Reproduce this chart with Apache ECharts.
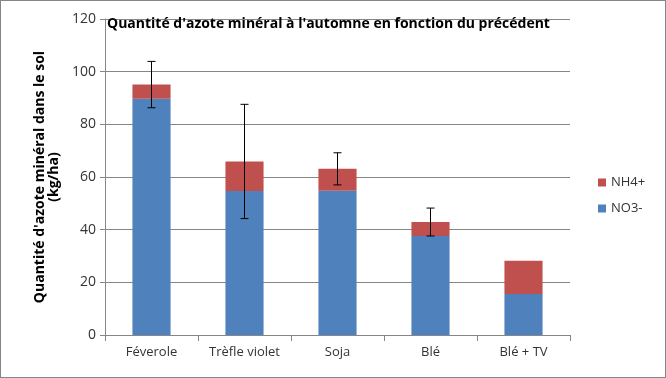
<!DOCTYPE html>
<html>
<head>
<meta charset="utf-8">
<script src="https://cdn.jsdelivr.net/npm/echarts@6/dist/echarts.min.js"></script>
<style>
  html, body { margin: 0; padding: 0; background: #fff; }
  #chart-container { width: 666px; height: 378px; box-sizing: border-box; border: 1px solid #868686; }
</style>
</head>
<body>
<div id="chart-container"></div>
<script>
// data
var categories = ['Féverole', 'Trèfle violet', 'Soja', 'Blé', 'Blé + TV'];
var no3 = [89.7, 54.7, 54.8, 37.6, 15.6];
var nh4 = [5.4, 11.2, 8.3, 5.3, 12.6];
var errors = [8.8, 21.7, 6.1, 5.3, 0];
var yTicks = [0, 20, 40, 60, 80, 100, 120];

// error bar centred on the total of each stack
var errData = categories.map(function (c, i) {
  var total = no3[i] + nh4[i];
  return [i, total - errors[i], total + errors[i]];
});

var dom = document.getElementById('chart-container');
var myChart = echarts.init(dom, null, { renderer: 'canvas' });

var option = {
  animation: false,
  textStyle: { fontFamily: 'Open Sans' },
  title: {
    text: "Quantité d'azote minéral à l'automne en fonction du précédent",
    left: 106,
    top: 16,
    padding: 0,
    textStyle: { fontSize: 14, fontWeight: 'bold', color: '#000', fontFamily: 'Open Sans' }
  },
  legend: {
    orient: 'vertical',
    left: 592,
    top: 170,
    itemWidth: 8,
    itemHeight: 8,
    itemGap: 13,
    icon: 'rect',
    textStyle: { fontSize: 13, color: '#333' },
    data: ['NH4+', 'NO3-']
  },
  grid: { left: 104, right: 95, top: 18, bottom: 42 },
  xAxis: {
    type: 'category',
    data: categories,
    axisLine: { lineStyle: { color: '#868686' } },
    axisTick: { show: true, length: 6, lineStyle: { color: '#868686' } },
    axisLabel: { color: '#333', fontSize: 13, margin: 11 }
  },
  yAxis: {
    type: 'value',
    min: yTicks[0],
    max: yTicks[yTicks.length - 1],
    interval: 20,
    name: "Quantité d'azote minéral dans le sol\n(kg/ha)",
    nameLocation: 'middle',
    nameGap: 42,
    nameTextStyle: { fontSize: 14, fontWeight: 'bold', color: '#000', lineHeight: 14 },
    axisLine: { show: true, lineStyle: { color: '#868686' } },
    axisTick: { show: true, length: 5, lineStyle: { color: '#868686' } },
    axisLabel: { color: '#333', fontSize: 14, margin: 9 },
    splitLine: { lineStyle: { color: '#868686' } }
  },
  series: [
    {
      name: 'NO3-',
      type: 'bar',
      stack: 'N',
      barWidth: '41%',
      itemStyle: { color: '#4f81bd' },
      data: no3
    },
    {
      name: 'NH4+',
      type: 'bar',
      stack: 'N',
      barWidth: '41%',
      itemStyle: { color: '#c0504d' },
      data: nh4
    },
    {
      name: 'err',
      type: 'custom',
      z: 10,
      data: errData,
      renderItem: function (params, api) {
        var lo = api.value(1), hi = api.value(2);
        if (hi - lo <= 0) return null;
        var pTop = api.coord([api.value(0), hi]);
        var pBot = api.coord([api.value(0), lo]);
        var x = pTop[0], hw = 4;
        var style = { stroke: '#000', lineWidth: 1 };
        return {
          type: 'group',
          children: [
            { type: 'line', shape: { x1: x, y1: pTop[1], x2: x, y2: pBot[1] }, style: style },
            { type: 'line', shape: { x1: x - hw, y1: pTop[1], x2: x + hw, y2: pTop[1] }, style: style },
            { type: 'line', shape: { x1: x - hw, y1: pBot[1], x2: x + hw, y2: pBot[1] }, style: style }
          ]
        };
      }
    }
  ]
};

myChart.setOption(option);
window.addEventListener('resize', myChart.resize);
</script>
</body>
</html>
